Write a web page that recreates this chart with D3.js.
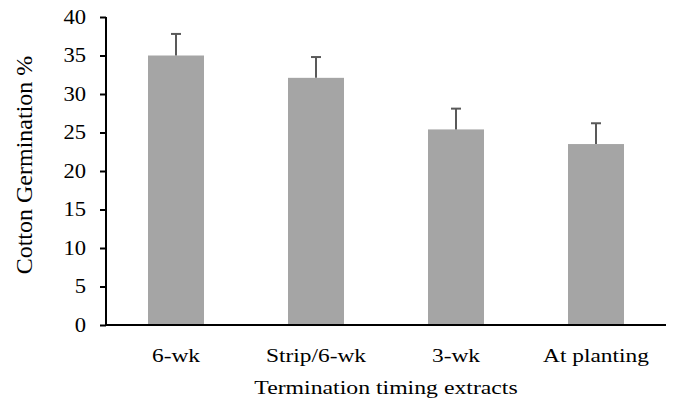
<!DOCTYPE html>
<html>
<head>
<meta charset="utf-8">
<script src="https://cdn.jsdelivr.net/npm/d3@7"></script>
<style>
  body { margin: 0; background: #fff; }
  text { font-family: "Liberation Serif", "Times New Roman", serif; fill: #000; }
</style>
</head>
<body>
<script>
var width = 673,
    height = 405;

// data
var categories = ["6-wk", "Strip/6-wk", "3-wk", "At planting"];
var germination = [35.0, 32.1, 25.4, 23.5];
var errors = [2.8, 2.7, 2.7, 2.7];
var yTicks = [0, 5, 10, 15, 20, 25, 30, 35, 40];

var margin = {top: 17, right: 7, bottom: 80, left: 106};

var x = d3.scaleBand()
    .domain(categories)
    .range([margin.left, width - margin.right])
    .paddingInner(0.6)
    .paddingOuter(0.3);

var y = d3.scaleLinear()
    .domain([0, 40])
    .range([height - margin.bottom, margin.top]);

var svg = d3.select("body").append("svg")
    .attr("width", width)
    .attr("height", height);

// bars
svg.append("g")
  .selectAll("rect")
  .data(germination)
  .enter().append("rect")
    .attr("x", function(d, i) { return x(categories[i]); })
    .attr("y", function(d) { return y(d); })
    .attr("width", x.bandwidth())
    .attr("height", function(d) { return y(0) - y(d); })
    .attr("fill", "#a5a5a5");

// error bars, upper half only
var eb = svg.append("g")
    .attr("stroke", "#595959")
    .attr("stroke-width", 2);

germination.forEach(function(d, i) {
  var cx = x(categories[i]) + x.bandwidth() / 2;
  eb.append("line")
      .attr("x1", cx).attr("x2", cx)
      .attr("y1", y(d)).attr("y2", y(d + errors[i]));
  eb.append("line")
      .attr("x1", cx - 5).attr("x2", cx + 5)
      .attr("y1", y(d + errors[i])).attr("y2", y(d + errors[i]));
});

// y axis
var yAxis = svg.append("g")
    .attr("transform", "translate(" + margin.left + ",0)")
    .call(d3.axisLeft(y).tickValues(yTicks).tickSize(6));
yAxis.select(".domain").attr("d", "M0," + y(40) + "V" + y(0)).attr("stroke-width", 2);
yAxis.selectAll(".tick line").attr("stroke-width", 2);
yAxis.selectAll("text")
    .attr("x", 0)
    .attr("transform", "translate(-20,0)scale(1.13,1)")
    .style("font-size", "20px");

// x axis
var xAxis = svg.append("g")
    .attr("transform", "translate(0," + y(0) + ")")
    .call(d3.axisBottom(x).tickSize(0));
xAxis.select(".domain").attr("d", "M" + margin.left + ",0H" + (width - margin.right)).attr("stroke-width", 2);
xAxis.selectAll("text")
    .attr("y", 37)
    .attr("dy", 0)
    .attr("transform", "scale(1.3,1)")
    .style("font-size", "18px");

// axis titles
svg.append("text")
    .attr("transform", "translate(" + (margin.left + width - margin.right) / 2 + ",394)scale(1.25,1)")
    .attr("text-anchor", "middle")
    .style("font-size", "19px")
    .text("Termination timing extracts");

svg.append("text")
    .attr("transform", "translate(32,165)rotate(-90)")
    .attr("text-anchor", "middle")
    .style("font-size", "24px")
    .text("Cotton Germination %");
</script>
</body>
</html>
